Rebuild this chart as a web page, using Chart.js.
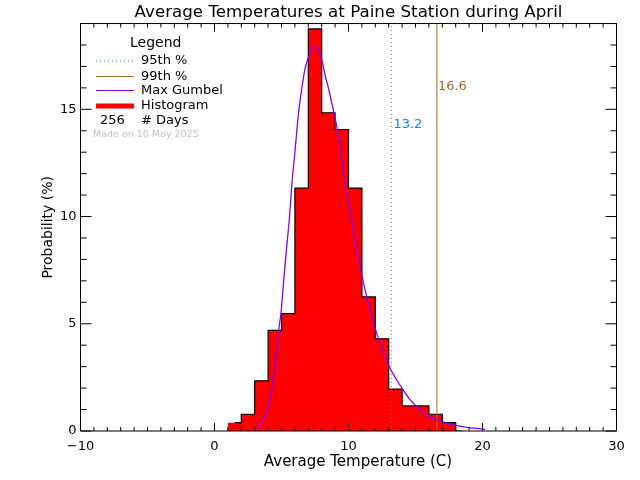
<!DOCTYPE html>
<html>
<head>
<meta charset="utf-8">
<script src="https://cdn.jsdelivr.net/npm/chart.js@4"></script>
<style>
  html, body { margin: 0; padding: 0; background: #fff; }
  canvas { display: block; }
</style>
</head>
<body>
<canvas id="chart" width="640" height="480"></canvas>
<script>
const FONT = '"DejaVu Sans"';

// histogram, bin centres with an empty bin on both ends
const binCenters = [0.5, 1.5, 2.5, 3.5, 4.5, 5.5, 6.5, 7.5, 8.5, 9.5, 10.5, 11.5, 12.5, 13.5, 14.5, 15.5, 16.5, 17.5, 18.5];
const histValues = [0, 0.39, 0.78, 2.34, 4.69, 5.47, 11.33, 18.75, 14.84, 14.06, 11.33, 6.25, 4.30, 1.95, 1.17, 1.17, 0.78, 0.39, 0];

// max gumbel curve
const gumbelX = [3.15, 3.64, 4.01, 4.39, 4.76, 4.96, 5.19, 5.39, 5.58, 5.76, 6.0, 6.25, 6.5, 6.75, 7.0, 7.25, 7.5, 7.75, 8.0, 8.25, 8.5, 8.75, 9.0, 9.25, 9.5, 9.87, 10.24, 10.6, 10.98, 11.35, 11.73, 12.22, 12.6, 13.05, 13.6, 14.04, 14.6, 15.09, 15.96, 16.6, 17.33, 18.3, 19.3, 20.2];
const gumbelY = [0.1, 0.51, 1.14, 2.38, 4.56, 5.5, 7.2, 8.6, 9.86, 11.4, 13.0, 14.7, 15.9, 16.87, 17.4, 17.8, 17.93, 17.72, 17.34, 16.6, 16.0, 15.3, 14.6, 13.75, 12.66, 11.1, 9.86, 8.46, 7.3, 6.28, 5.34, 4.33, 3.7, 3.0, 2.38, 1.95, 1.45, 1.14, 0.67, 0.55, 0.36, 0.23, 0.13, 0.08];

const pct95 = 13.2;
const pct99 = 16.6;
const xRange = [-10, 30];
const yRange = [0, 19];

const RED = '#ff0000';
const PURPLE = '#8000ff';
const BROWN = '#a5682a';
const BLUE = '#0a84ff';

function pairs(xs, ys) {
    return xs.map((x, i) => ({ x: x, y: ys[i] }));
}

// IDL style box: ticks point inwards on all four sides
const boxPlugin = {
    id: 'box',
    afterDatasetsDraw(chart) {
        const { ctx, chartArea: a, scales } = chart;
        ctx.save();
        ctx.strokeStyle = '#000';
        ctx.lineWidth = 1;
        ctx.beginPath();
        ctx.rect(a.left, a.top, a.right - a.left, a.bottom - a.top);
        scales.x.ticks.forEach(t => {
            const px = scales.x.getPixelForValue(t.value);
            const len = t.value % 10 === 0 ? 8 : 4;
            ctx.moveTo(px, a.bottom);
            ctx.lineTo(px, a.bottom - len);
            ctx.moveTo(px, a.top);
            ctx.lineTo(px, a.top + len);
        });
        scales.y.ticks.forEach(t => {
            const py = scales.y.getPixelForValue(t.value);
            const len = t.value % 5 === 0 ? 11 : 6;
            ctx.moveTo(a.left, py);
            ctx.lineTo(a.left + len, py);
            ctx.moveTo(a.right, py);
            ctx.lineTo(a.right - len, py);
        });
        ctx.stroke();
        ctx.restore();
    }
};

// hand drawn legend in the top left corner, plus the percentile labels
const notesPlugin = {
    id: 'notes',
    afterDraw(chart) {
        const { ctx, scales } = chart;
        ctx.save();
        ctx.textBaseline = 'middle';
        ctx.textAlign = 'left';

        ctx.font = '14px ' + FONT;
        ctx.fillStyle = '#000';
        ctx.fillText('Legend', 130, 43);

        const rows = [
            { label: '95th %', y: 61, color: BLUE, width: 1, dash: [1, 3] },
            { label: '99th %', y: 76.5, color: BROWN, width: 1, dash: [] },
            { label: 'Max Gumbel', y: 90.5, color: PURPLE, width: 1, dash: [] },
            { label: 'Histogram', y: 106, color: RED, width: 5, dash: [] }
        ];
        ctx.font = '13px ' + FONT;
        rows.forEach(r => {
            ctx.beginPath();
            ctx.setLineDash(r.dash);
            ctx.strokeStyle = r.color;
            ctx.lineWidth = r.width;
            ctx.moveTo(96, r.y);
            ctx.lineTo(134, r.y);
            ctx.stroke();
            ctx.fillText(r.label, 141, r.y);
        });
        ctx.setLineDash([]);
        ctx.fillText('256', 100, 121);
        ctx.fillText('# Days', 141, 121);

        ctx.font = '9.5px ' + FONT;
        ctx.fillStyle = '#c0c0c0';
        ctx.fillText('Made on 10 May 2025', 93, 135);

        ctx.font = '13px ' + FONT;
        ctx.fillStyle = BLUE;
        ctx.fillText(pct95.toFixed(1), scales.x.getPixelForValue(pct95) + 2, 125);
        ctx.fillStyle = BROWN;
        ctx.fillText(pct99.toFixed(1), scales.x.getPixelForValue(pct99) + 1, 87);
        ctx.restore();
    }
};

new Chart(document.getElementById('chart').getContext('2d'), {
    type: 'line',
    data: {
        datasets: [
            {
                label: 'Max Gumbel',
                data: pairs(gumbelX, gumbelY),
                borderColor: PURPLE,
                borderWidth: 1.3,
                pointRadius: 0,
                cubicInterpolationMode: 'monotone',
                order: 0
            },
            {
                label: '99th %',
                data: pairs([pct99, pct99], yRange),
                borderColor: BROWN,
                borderWidth: 1,
                pointRadius: 0,
                order: 1
            },
            {
                label: '95th %',
                data: pairs([pct95, pct95], yRange),
                borderColor: BROWN,
                borderWidth: 1,
                borderDash: [1, 3],
                pointRadius: 0,
                order: 1
            },
            {
                label: 'Histogram outline',
                data: pairs(binCenters.slice(1), histValues.slice(1)),
                borderColor: '#000',
                borderWidth: 1.2,
                stepped: 'middle',
                pointRadius: 0,
                order: 2
            },
            {
                label: 'Histogram',
                data: pairs(binCenters, histValues),
                borderWidth: 0,
                borderColor: RED,
                backgroundColor: RED,
                stepped: 'middle',
                fill: 'origin',
                pointRadius: 0,
                order: 3
            }
        ]
    },
    options: {
        responsive: false,
        animation: false,
        devicePixelRatio: 1,
        layout: { padding: { top: 0, right: 23.5, bottom: 0, left: 0 } },
        plugins: {
            legend: { display: false },
            tooltip: { enabled: false },
            title: {
                display: true,
                fullSize: false,
                text: 'Average Temperatures at Paine Station during April',
                color: '#000',
                font: { family: FONT, size: 16.7, weight: 'normal' },
                padding: { top: 2.5, bottom: 1 }
            }
        },
        scales: {
            x: {
                type: 'linear',
                min: xRange[0],
                max: xRange[1],
                afterFit: s => { s.height = 49; },
                grid: { display: false, drawTicks: false },
                border: { display: false },
                ticks: {
                    stepSize: 1,
                    autoSkip: false,
                    maxRotation: 0,
                    padding: 8,
                    color: '#000',
                    font: { family: FONT, size: 13 },
                    callback: v => (v % 10 === 0 ? String(v).replace('-', '\u2212') : '')
                },
                title: {
                    display: true,
                    // leading spaces push the centred title right, as in the original
                    text: '    Average Temperature (C)',
                    color: '#000',
                    font: { family: FONT, size: 15 },
                    padding: { top: 0, bottom: 8.5 }
                }
            },
            y: {
                min: yRange[0],
                max: yRange[1],
                afterFit: s => { s.width = 80.5; },
                grid: { display: false, drawTicks: false },
                border: { display: false },
                ticks: {
                    stepSize: 1,
                    autoSkip: false,
                    padding: 4,
                    color: '#000',
                    font: { family: FONT, size: 13 },
                    callback: v => (v % 5 === 0 ? String(v) : '')
                },
                title: {
                    display: true,
                    text: 'Probability (%)',
                    color: '#000',
                    font: { family: FONT, size: 14 },
                    padding: { top: 40, bottom: 0 }
                }
            }
        }
    },
    plugins: [boxPlugin, notesPlugin]
});
</script>
</body>
</html>
